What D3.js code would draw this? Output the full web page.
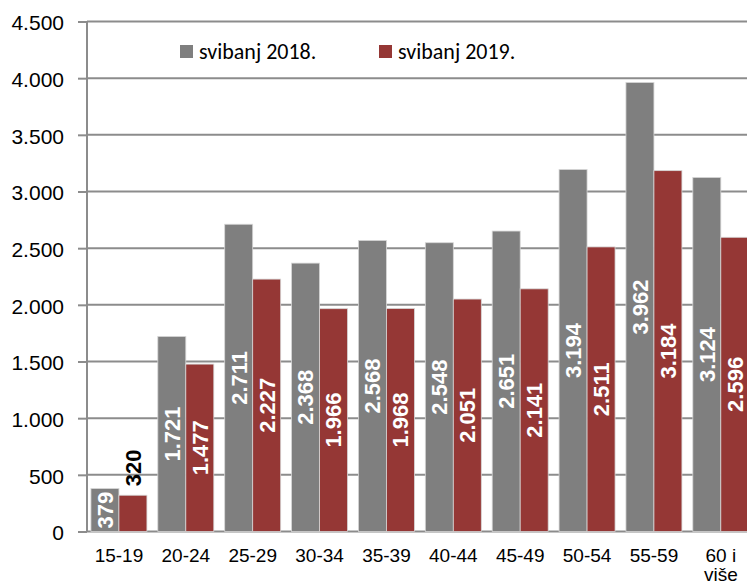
<!DOCTYPE html>
<html>
<head>
<meta charset="utf-8">
<script src="https://cdn.jsdelivr.net/npm/d3@7"></script>
<style>
  body { margin: 0; background: #fff; }
  svg { display: block; font-family: "Liberation Sans", Arial, sans-serif; }
</style>
</head>
<body>
<svg width="747" height="584"></svg>
<script>
var svg = d3.select('svg');

// Data
var categories = ['15-19', '20-24', '25-29', '30-34', '35-39', '40-44', '45-49', '50-54', '55-59', '60 i više'];
var seriesNames = ['svibanj 2018.', 'svibanj 2019.'];
var values2018 = [379, 1721, 2711, 2368, 2568, 2548, 2651, 3194, 3962, 3124];
var values2019 = [320, 1477, 2227, 1966, 1968, 2051, 2141, 2511, 3184, 2596];
var yTicks = [0, 500, 1000, 1500, 2000, 2500, 3000, 3500, 4000, 4500];
var colors = ['#7f7f7f', '#953735'];

var rows = categories.map(function (c, i) {
  return {cat: c, vals: [values2018[i], values2019[i]]};
});

// Layout
var plot = {l: 87, t: 21.5, b: 531.5};
var step = 66.875;

var locale = d3.formatLocale({decimal: ',', thousands: '.', grouping: [3], currency: ['', '']});
var fmt = locale.format(',d');

var xScale = d3.scaleBand()
  .domain(categories)
  .range([85.5, 85.5 + step * categories.length])
  .paddingInner(0.163)
  .paddingOuter(0.0815);

var xSub = d3.scaleBand()
  .domain([0, 1])
  .range([0, xScale.bandwidth()]);

var yScale = d3.scaleLinear().domain([0, 4500]).range([plot.b, plot.t]);

// Gridlines + y axis
var yAxis = d3.axisLeft(yScale)
  .tickValues(yTicks)
  .tickFormat(fmt)
  .tickSize(9)
  .tickPadding(14);

var yG = svg.append('g')
  .attr('transform', 'translate(' + plot.l + ',0)')
  .call(yAxis);
yG.select('.domain').remove();
yG.selectAll('.tick line').attr('stroke', '#8c8c8c').attr('stroke-width', 2);
yG.selectAll('.tick text')
  .attr('font-size', 21)
  .attr('font-family', '"Liberation Sans", Arial, sans-serif')
  .attr('fill', '#000')
  .attr('dy', '0.4em');

svg.append('g')
  .selectAll('line')
  .data(yTicks)
  .enter()
  .append('line')
  .attr('x1', plot.l)
  .attr('x2', 747)
  .attr('y1', function (d) { return yScale(d); })
  .attr('y2', function (d) { return yScale(d); })
  .attr('stroke', '#8c8c8c')
  .attr('stroke-width', 2);

svg.append('line')
  .attr('x1', plot.l).attr('x2', plot.l)
  .attr('y1', plot.t).attr('y2', plot.b)
  .attr('stroke', '#8c8c8c')
  .attr('stroke-width', 2);

// Bars
var groups = svg.append('g')
  .selectAll('.grp')
  .data(rows)
  .enter()
  .append('g')
  .attr('class', 'grp')
  .attr('transform', function (d) { return 'translate(' + xScale(d.cat) + ',0)'; });

groups.selectAll('rect')
  .data(function (d) { return d.vals; })
  .enter()
  .append('rect')
  .attr('x', function (d, i) { return xSub(i); })
  .attr('width', xSub.bandwidth())
  .attr('y', function (d) { return yScale(d); })
  .attr('height', function (d) { return plot.b - yScale(d); })
  .attr('fill', function (d, i) { return colors[i]; })
  .attr('stroke', '#d6d6d6')
  .attr('stroke-width', 0.8);

// Value labels (rotated, centred in the bar; outside when the bar is too short)
groups.each(function (row) {
  var g = d3.select(this);
  row.vals.forEach(function (v, i) {
    var cx = xSub(i) + xSub.bandwidth() / 2;
    var barH = plot.b - yScale(v);
    var inside = barH > 40;
    var cy = inside ? yScale(v) + barH / 2 : yScale(v) - 9;
    g.append('text')
      .attr('transform', 'translate(' + cx + ',' + cy + ') rotate(-90)')
      .attr('text-anchor', inside ? 'middle' : 'start')
      .attr('dy', '0.36em')
      .attr('font-size', 22)
      .attr('font-weight', 'bold')
      .attr('fill', inside ? '#fff' : '#000')
      .text(fmt(v));
  });
});

// Category labels
var catG = svg.append('g');
categories.forEach(function (c) {
  var cx = xScale(c) + xScale.bandwidth() / 2;
  var lines = c === '60 i više' ? ['60 i', 'više'] : [c];
  var t = catG.append('text')
    .attr('x', cx)
    .attr('y', 562)
    .attr('text-anchor', 'middle')
    .attr('font-size', 19)
    .attr('fill', '#000');
  lines.forEach(function (ln, k) {
    t.append('tspan')
      .attr('x', cx)
      .attr('dy', k === 0 ? 0 : 19)
      .text(ln);
  });
});

// Legend
var legX = [180, 379];
var leg = svg.append('g');
seriesNames.forEach(function (name, i) {
  leg.append('rect')
    .attr('x', legX[i]).attr('y', 45)
    .attr('width', 13).attr('height', 13)
    .attr('fill', colors[i]);
  leg.append('text')
    .attr('x', legX[i] + 19)
    .attr('y', 59)
    .attr('font-family', 'Carlito, Lato, "Open Sans", sans-serif')
    .attr('font-size', 22)
    .attr('fill', '#000')
    .text(name);
});
</script>
</body>
</html>
